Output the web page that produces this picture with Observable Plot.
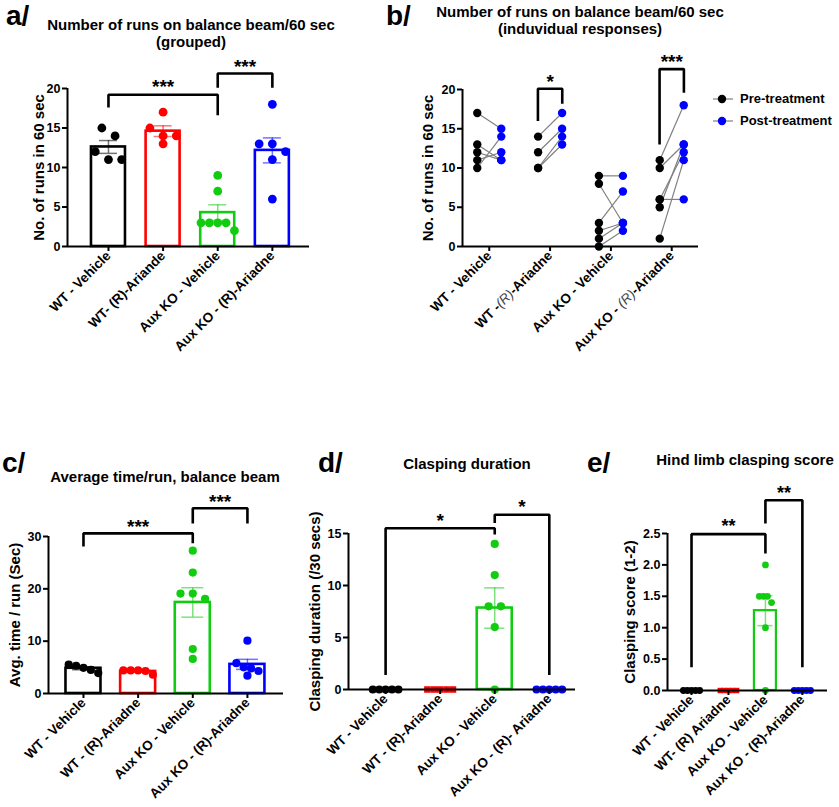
<!DOCTYPE html>
<html><head><meta charset="utf-8">
<script src="https://cdn.jsdelivr.net/npm/d3@7"></script>
<script src="https://cdn.jsdelivr.net/npm/@observablehq/plot@0.6"></script>
<style>
body{margin:0;background:#fff;}
#fig{position:relative;width:839px;height:807px;overflow:hidden;font-family:"Liberation Sans",Arial,sans-serif;font-weight:bold;color:#000;background:#fff;}
.abs{position:absolute;}
.letter{font-size:28px;line-height:28px;white-space:nowrap;}
.title{font-size:15px;line-height:17px;text-align:center;white-space:nowrap;}
.leg{font-size:13px;line-height:16px;white-space:nowrap;}
</style></head><body><div id="fig"></div>
<script>
// ---------------- data ----------------
const aCats = ["WT - Vehicle", "WT- (R)-Ariande", "Aux KO - Vehicle", "Aux KO - (R)-Ariadne"];
const aWT = [15, 14, 12, 11, 11];
const aWTR = [17, 15, 14, 14, 13];
const aKO = [9, 7, 3, 3, 3, 3, 2];
const aKOR = [18, 13, 13, 12, 11, 6];
const aSig = [
  {from: 0, to: 2, top: 19.2, left: 17.6, right: 16.6, stars: "***", at: 20.8},
  {from: 2, to: 3, top: 21.9, left: 20.1, right: 20.1, stars: "***", at: 23.4}
];

const bCats = ["WT - Vehicle", "WT -(R)-Ariadne", "Aux KO - Vehicle", "Aux KO - (R)-Ariadne"];
const bPre = [[17, 13, 12, 11, 10], [14, 12, 10, 10], [9, 8, 3, 2, 1, 0], [11, 10, 6, 6, 5, 1]];
const bPost = [[15, 11, 11, 12, 14], [17, 15, 14, 13], [9, 3, 7, 3, 3, 2], [18, 13, 6, 12, 13, 11]];
const bSeries = ["Pre-treatment", "Post-treatment"];
const bSig = [
  {from: 0.8, to: 1.2, top: 20.1, left: 16.0, right: 18.2, stars: "*", at: 21.6},
  {from: 2.8, to: 3.2, top: 22.6, left: 13.0, right: 19.6, stars: "***", at: 24.1}
];

const cCats = ["WT - Vehicle", "WT - (R)-Ariadne", "Aux KO - Vehicle", "Aux KO - (R)-Ariadne"];
const cWT = [5.5, 5.3, 4.9, 4.5, 3.9];
const cWTR = [4.4, 4.4, 4.4, 4.3, 3.6];
const cKO = [27.3, 23.1, 19.1, 19.1, 18.1, 8.5, 6.6];
const cKOR = [10.1, 5.8, 5.0, 4.8, 4.3, 3.4];
const cSig = [
  {from: 0, to: 2, top: 30.6, left: 28.1, right: 28.7, stars: "***", at: 32.8},
  {from: 2, to: 3, top: 35.4, left: 32.5, right: 32.5, stars: "***", at: 37.6}
];

const dCats = ["WT - Vehicle", "WT - (R)-Ariadne", "Aux KO - Vehicle", "Aux KO - (R)- Ariadne"];
const dWT = [0, 0, 0, 0, 0];
const dWTR = [0, 0, 0, 0, 0];
const dKO = [14, 11, 8, 8, 6, 0];
const dKOR = [0, 0, 0, 0, 0];
const dSig = [
  {from: 0, to: 2, top: 15.5, left: 1.4, right: 14.9, stars: "*", at: 16.7},
  {from: 2, to: 3, top: 16.8, left: 16.0, right: 1.4, stars: "*", at: 18.0}
];

const eCats = ["WT - Vehicle", "WT- (R) Ariadne", "Aux KO - Vehicle", "Aux KO - (R)-Ariadne"];
const eWT = [0, 0, 0, 0, 0];
const eWTR = [0, 0, 0, 0, 0];
const eKO = [2.0, 1.5, 1.5, 1.5, 1.4, 1.0, 0];
const eKOR = [0, 0, 0, 0, 0];
const eSig = [
  {from: 0, to: 2, top: 2.49, left: 0.37, right: 2.18, stars: "**", at: 2.69},
  {from: 2, to: 3, top: 3.03, left: 2.66, right: 0.37, stars: "**", at: 3.22}
];

const COLORS = ["#000000", "#ff0000", "#11cc11", "#0000ff"];

// ---------------- helpers ----------------
const fig = document.getElementById("fig");
const FONT = "'Liberation Sans', Arial, sans-serif";

function swarm(vals, ky, kx, diam, tight) {
  const idx = vals.map((v, i) => i).sort((a, b) => vals[b] - vals[a]);
  const rows = [];
  for (const i of idx) {
    const r = rows[rows.length - 1];
    if (r && (vals[r[0]] - vals[i]) * ky < diam * 1.1) r.push(i); else rows.push([i]);
  }
  const off = vals.map(() => 0);
  for (const r of rows) {
    const sp = (r.length <= 3 ? 1.5 : tight) * diam;
    r.forEach((i, j) => off[i] = (j - (r.length - 1) / 2) * sp / kx);
  }
  return off;
}

function place(el, left, top) {
  const div = document.createElement("div");
  div.className = "abs";
  div.style.left = left + "px";
  div.style.top = top + "px";
  div.appendChild(el);
  fig.appendChild(div);
  return div;
}
function addText(txt, cls, left, top, width) {
  const div = document.createElement("div");
  div.className = "abs " + cls;
  div.style.left = left + "px";
  div.style.top = top + "px";
  if (width) div.style.width = width + "px";
  div.innerHTML = txt;
  fig.appendChild(div);
}

function sigMarks(sig, font) {
  const out = sig.map(s => Plot.line(
    [{x: s.from, y: s.left}, {x: s.from, y: s.top}, {x: s.to, y: s.top}, {x: s.to, y: s.right}],
    {x: "x", y: "y", stroke: "black", strokeWidth: 2.6, strokeLinejoin: "miter", strokeLinecap: "butt"}));
  out.push(Plot.text(sig, {x: d => (d.from + d.to) / 2, y: "at", text: "stars", fontSize: font, fontWeight: "bold", dy: 5}));
  return out;
}

function axisMarks(p) {
  return [
    Plot.ruleY([0], {strokeWidth: 2}),
    Plot.ruleX([p.xDomain[0]], {strokeWidth: 2}),
    Plot.axisY(p.yTicks, {tickSize: 5, tickPadding: 2, tickFormat: p.yFmt, label: null, fontSize: 12.5, strokeWidth: 2}),
    Plot.axisX([0, 1, 2, 3], {tickSize: 5, tickPadding: 2, tickRotate: -45, tickFormat: i => p.cats[i], label: null, fontSize: 13.5, strokeWidth: 2}),
    Plot.text([p.ylabel], {text: d => d, frameAnchor: "left", textAnchor: "middle", dx: p.ylabelDx, rotate: -90, fontSize: 15, fontWeight: "bold"})
  ];
}

function geometry(p) {
  return {
    ml: p.fx0 - p.left, mr: p.left + p.width - p.fx1,
    mt: p.fy0 - p.top, mb: p.top + p.height - p.fy1,
    kx: (p.fx1 - p.fx0) / (p.xDomain[1] - p.xDomain[0]),
    ky: (p.fy1 - p.fy0) / (p.yDomain[1] - p.yDomain[0])
  };
}

function render(p, marks) {
  const g = geometry(p);
  const svg = Plot.plot({
    width: p.width, height: p.height,
    marginLeft: g.ml, marginRight: g.mr, marginTop: g.mt, marginBottom: g.mb,
    x: {domain: p.xDomain}, y: {domain: p.yDomain},
    color: {type: "identity"},
    style: {background: "transparent", overflow: "visible", fontFamily: FONT, fontWeight: "bold", fontSize: "12px", color: "black"},
    marks
  });
  place(svg, p.left, p.top);
  return svg;
}

function barPanel(p) {
  const g = geometry(p);
  const pts = [], stats = [];
  p.groups.forEach((vals, i) => {
    const off = swarm(vals, g.ky, g.kx, 2 * p.r, p.tight);
    const sym = (p.squares || []).includes(i) ? "square" : "circle";
    vals.forEach((v, j) => pts.push({x: i + off[j], y: v, col: COLORS[i], sym}));
    const m = d3.mean(vals), s = d3.deviation(vals) / Math.sqrt(vals.length);
    stats.push({i, m, s, col: COLORS[i]});
  });
  const hw = p.barHalf / g.kx, cap = p.capHalf / g.kx;
  const bars = stats.filter(d => d.m > 0);
  const marks = [
    Plot.rectY(bars, {x1: d => d.i - hw, x2: d => d.i + hw, y1: 0, y2: "m", fill: "white", stroke: "col", strokeWidth: p.barStroke}),
    Plot.ruleX(bars, {x: "i", y1: d => d.m - d.s, y2: d => d.m + d.s, stroke: "col", strokeOpacity: 0.55, strokeWidth: 1.5}),
    Plot.ruleY(bars, {x1: d => d.i - cap, x2: d => d.i + cap, y: d => d.m + d.s, stroke: "col", strokeOpacity: 0.55, strokeWidth: 1.5}),
    Plot.ruleY(bars, {x1: d => d.i - cap, x2: d => d.i + cap, y: d => d.m - d.s, stroke: "col", strokeOpacity: 0.55, strokeWidth: 1.5}),
    Plot.dot(pts.filter(d => d.sym === "circle"), {x: "x", y: "y", r: p.r, fill: "col"}),
    Plot.dot(pts.filter(d => d.sym === "square"), {x: "x", y: "y", r: p.r * 0.9, symbol: "square", fill: "col"}),
    ...sigMarks(p.sig, p.sigFont),
    ...axisMarks(p)
  ];
  return render(p, marks);
}

// ---------------- panel a ----------------
barPanel({
  left: 0, top: 45, width: 330, height: 390,
  fx0: 67, fx1: 309, fy0: 88, fy1: 246,
  xDomain: [-0.75, 3.68], yDomain: [0, 20], yTicks: [0, 5, 10, 15, 20], yFmt: d3.format("d"),
  cats: aCats, groups: [aWT, aWTR, aKO, aKOR], r: 4.4, tight: 0.95,
  barHalf: 17, capHalf: 9, barStroke: 2.6,
  sig: aSig, sigFont: 19, ylabel: "No. of runs in 60 sec", ylabelDx: -28
});

// ---------------- panel b ----------------
(function () {
  const p = {
    left: 400, top: 45, width: 439, height: 390,
    fx0: 462, fx1: 698, fy0: 89, fy1: 246,
    xDomain: [-0.44, 3.44], yDomain: [0, 20], yTicks: [0, 5, 10, 15, 20], yFmt: d3.format("d"),
    cats: bCats, ylabel: "No. of runs in 60 sec", ylabelDx: -34
  };
  const g = geometry(p);
  const off = 12 / g.kx;
  const pairs = [];
  bPre.forEach((pre, i) => pre.forEach((v, j) => pairs.push({i, pre: v, post: bPost[i][j]})));
  const svg = render(p, [
    Plot.link(pairs, {x1: d => d.i - off, y1: "pre", x2: d => d.i + off, y2: "post", stroke: "#808080", strokeWidth: 1.2}),
    Plot.dot(pairs, {x: d => d.i - off, y: "pre", r: 4.2, fill: COLORS[0]}),
    Plot.dot(pairs, {x: d => d.i + off, y: "post", r: 4.2, fill: COLORS[3]}),
    ...sigMarks(bSig, 19),
    ...axisMarks(p)
  ]);
  // italic, regular-weight (R) in the category labels
  svg.querySelectorAll("text").forEach(t => {
    if (t.childElementCount === 0 && t.textContent.includes("(R)")) {
      const parts = t.textContent.split("(R)");
      t.textContent = "";
      const ns = "http://www.w3.org/2000/svg";
      const a = document.createElementNS(ns, "tspan"); a.textContent = parts[0];
      const r = document.createElementNS(ns, "tspan"); r.textContent = "(R)";
      r.setAttribute("font-style", "italic"); r.setAttribute("font-weight", "normal"); r.setAttribute("fill", "#444");
      const c = document.createElementNS(ns, "tspan"); c.textContent = parts[1];
      t.append(a, r, c);
    }
  });
  // legend
  const ns = "http://www.w3.org/2000/svg";
  const lg = document.createElementNS(ns, "svg");
  lg.setAttribute("width", 30); lg.setAttribute("height", 40);
  [0, 1].forEach(k => {
    const y = 9 + k * 22;
    const ln = document.createElementNS(ns, "line");
    ln.setAttribute("x1", 3); ln.setAttribute("x2", 23); ln.setAttribute("y1", y); ln.setAttribute("y2", y);
    ln.setAttribute("stroke", "#808080"); ln.setAttribute("stroke-width", 1.2);
    const c = document.createElementNS(ns, "circle");
    c.setAttribute("cx", 12); c.setAttribute("cy", y); c.setAttribute("r", 4.2);
    c.setAttribute("fill", k ? COLORS[3] : COLORS[0]);
    lg.append(ln, c);
  });
  place(lg, 710, 90);
  addText(bSeries[0], "leg", 740, 91);
  addText(bSeries[1], "leg", 740, 113);
})();

// ---------------- panel c ----------------
barPanel({
  left: 0, top: 480, width: 300, height: 327,
  fx0: 48, fx1: 283, fy0: 536, fy1: 693,
  xDomain: [-0.64, 3.66], yDomain: [0, 30], yTicks: [0, 10, 20, 30], yFmt: d3.format("d"),
  cats: cCats, groups: [cWT, cWTR, cKO, cKOR], r: 4.1, tight: 0.9,
  barHalf: 17.5, capHalf: 11, barStroke: 2.6,
  sig: cSig, sigFont: 19, ylabel: "Avg. time / run (Sec)", ylabelDx: -33
});

// ---------------- panel d ----------------
barPanel({
  left: 290, top: 480, width: 290, height: 327,
  fx0: 348, fx1: 575, fy0: 533, fy1: 689,
  xDomain: [-0.68, 3.48], yDomain: [0, 15], yTicks: [0, 5, 10, 15], yFmt: d3.format("d"),
  cats: dCats, groups: [dWT, dWTR, dKO, dKOR], r: 4.1, tight: 0.78, squares: [1],
  barHalf: 17.5, capHalf: 10, barStroke: 2.6,
  sig: dSig, sigFont: 19, ylabel: "Clasping duration (/30 secs)", ylabelDx: -33
});

// ---------------- panel e ----------------
barPanel({
  left: 570, top: 480, width: 269, height: 327,
  fx0: 667, fx1: 827, fy0: 533, fy1: 690,
  xDomain: [-0.65, 3.68], yDomain: [0, 2.5], yTicks: [0, 0.5, 1, 1.5, 2, 2.5], yFmt: d3.format(".1f"),
  cats: eCats, groups: [eWT, eWTR, eKO, eKOR], r: 3.4, tight: 0.6, squares: [1],
  barHalf: 11, capHalf: 7.5, barStroke: 2.2,
  sig: eSig, sigFont: 18, ylabel: "Clasping score (1-2)", ylabelDx: -37
});

// ---------------- letters & titles ----------------
addText("a/", "letter", 6, 2);
addText("b/", "letter", 386, 2);
addText("c/", "letter", 2, 449);
addText("d/", "letter", 318, 449);
addText("e/", "letter", 587, 449);
addText("Number of runs on balance beam/60 sec<br>(grouped)", "title", 31, 16, 320);
addText("Number of runs on balance beam/60 sec<br>(induvidual responses)", "title", 420, 3, 320);
addText("Average time/run, balance beam", "title", 15, 468, 300);
addText("Clasping duration", "title", 367, 455, 200);
addText("Hind limb clasping score", "title", 655, 451, 180);
</script></body></html>
